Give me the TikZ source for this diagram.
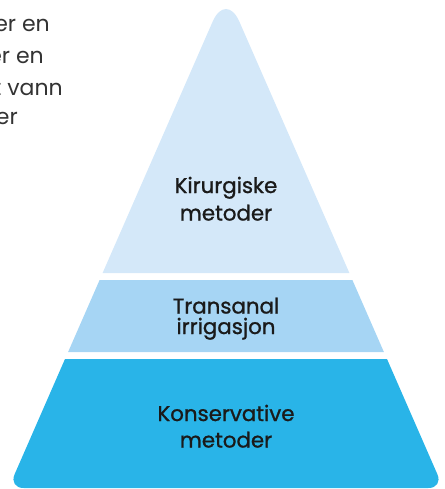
\documentclass[tikz,border=0pt]{standalone}
\usepackage{fontspec}
\setmainfont{Poppins}
\newfontfamily\labfont{Poppins}[FakeBold=1.1]
\definecolor{topc}{HTML}{D4E8F9}
\definecolor{midc}{HTML}{A6D5F4}
\definecolor{botc}{HTML}{29B4E8}
\definecolor{labc}{HTML}{1A1A1A}
\definecolor{parc}{HTML}{333333}
\begin{document}
\begin{tikzpicture}[x=0.75pt,y=-0.75pt,
  lab/.style={text=labc,font=\labfont\fontsize{16}{19}\selectfont,anchor=base,inner sep=0pt},
  para/.style={text=parc,font=\fontsize{16.5}{20}\selectfont,anchor=base east,inner sep=0pt}]
\useasboundingbox (0,0) rectangle (445,489);
% top section
\fill[topc] (102.6,273) -- (212.6,21.7) .. controls (220.0,4.75) and (232.0,4.75) .. (239.4,21.7) -- (349.4,273) -- cycle;
% middle section
\fill[midc] (99.6,280) -- (352.4,280) -- (383.9,352) -- (68.1,352) -- cycle;
% bottom section
\fill[botc] (65,359) -- (387,359) -- (437.4,474.3) .. controls (440.7,481.9) and (436.7,488) .. (428.4,488)
  -- (23.6,488) .. controls (15.3,488) and (11.3,481.9) .. (14.6,474.3) -- cycle;
% labels
\node[lab] (k1) at (226,193) {Kirurgiske};
\node[lab] (k2) at (226,220.5) {metoder};
\node[lab] (t1) at (226,313.5) {Transanal};
\node[lab] (t2) at (226,334) {irrigasjon};
\node[lab] (c1) at (226,421) {Konservative};
\node[lab] (c2) at (226,447.5) {metoder};
% cut-off paragraph
\node[para] (p1) at (50,31.5) {er en};
\node[para] (p2) at (44,63) {er en};
\node[para] (p3) at (63,95) {t vann};
\node[para] (p4) at (18,124) {er};
\end{tikzpicture}
\end{document}
